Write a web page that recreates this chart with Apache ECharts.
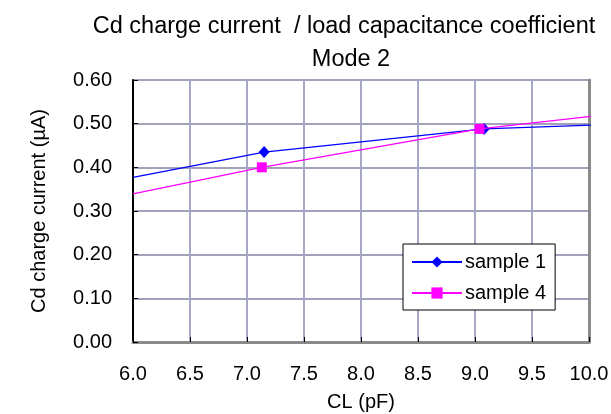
<!DOCTYPE html>
<html>
<head>
<meta charset="utf-8">
<script src="https://cdn.jsdelivr.net/npm/echarts@6/dist/echarts.min.js"></script>
<style>
  html, body { margin: 0; padding: 0; background: #ffffff; }
  #chart { width: 611px; height: 414px; }
</style>
</head>
<body>
<div id="chart"></div>
<script>
// Load capacitance CL (pF) and Cd charge current (µA) for each sample.
// The trace runs across the full axis; markers sit on the measured points.
const sample1X = [6.0, 7.15, 9.08, 10.04];
const sample1Y = [0.377, 0.435, 0.488, 0.497];
const sample1Marked = [false, true, true, false];

const sample4X = [6.0, 7.13, 9.04, 10.04];
const sample4Y = [0.339, 0.400, 0.488, 0.5175];
const sample4Marked = [false, true, true, false];

const xTicks = { min: 6.0, max: 10.0, step: 0.5 };
const yTicks = { min: 0.0, max: 0.60, step: 0.10 };

const FONT = 'Arial, "Liberation Sans", sans-serif';

function buildData(xs, ys, marked) {
  return xs.map((x, i) => marked[i]
    ? { value: [x, ys[i]] }
    : { value: [x, ys[i]], symbol: 'none' });
}

const chart = echarts.init(document.getElementById('chart'), null, { renderer: 'canvas' });

chart.setOption({
  animation: false,
  backgroundColor: '#ffffff',
  graphic: [
    { type: 'text', x: 344, y: 27, z: 10,
      style: { text: 'Cd charge current  / load capacitance coefficient', font: '23.5px ' + FONT,
               fill: '#000', textAlign: 'center', textVerticalAlign: 'middle' } },
    { type: 'text', x: 351, y: 60, z: 10,
      style: { text: 'Mode 2', font: '23.5px ' + FONT,
               fill: '#000', textAlign: 'center', textVerticalAlign: 'middle' } }
  ],
  grid: { left: 133, right: 22, top: 80, bottom: 72, containLabel: false, outerBoundsMode: 'none' },
  legend: {
    orient: 'vertical',
    left: 403, top: 244,
    width: 154,
    padding: [8, 9, 7, 8],
    itemGap: 11,
    itemWidth: 50,
    itemHeight: 14,
    backgroundColor: '#ffffff',
    borderColor: '#000000',
    borderWidth: 1,
    textStyle: { fontFamily: FONT, fontSize: 20, color: '#000', lineHeight: 20, padding: [0, 0, 0, -2] },
    data: ['sample 1', 'sample 4']
  },
  xAxis: [{
    type: 'value',
    min: xTicks.min, max: xTicks.max, interval: xTicks.step,
    name: 'CL (pF)', nameLocation: 'middle', nameGap: 50,
    nameTextStyle: { fontFamily: FONT, fontSize: 20, color: '#000' },
    axisLine: { show: true, onZero: false, lineStyle: { color: '#000', width: 2 } },
    axisTick: { show: true, inside: true, length: 5, lineStyle: { color: '#000', width: 1 } },
    axisLabel: { fontFamily: FONT, fontSize: 20, color: '#000', margin: 22,
                 formatter: v => v.toFixed(1) },
    splitLine: { show: true, lineStyle: { color: '#a7a7c9', width: 2 } }
  }, {
    type: 'value', position: 'top',
    min: xTicks.min, max: xTicks.max, interval: xTicks.step,
    axisLine: { show: true, lineStyle: { color: '#8a8a8a', width: 3 } },
    axisTick: { show: false }, axisLabel: { show: false }, splitLine: { show: false }
  }],
  yAxis: [{
    type: 'value',
    min: yTicks.min, max: yTicks.max, interval: yTicks.step,
    name: 'Cd charge current (µA)', nameLocation: 'middle', nameGap: 84,
    nameTextStyle: { fontFamily: FONT, fontSize: 20, color: '#000' },
    axisLine: { show: true, onZero: false, lineStyle: { color: '#000', width: 2 } },
    axisTick: { show: true, inside: true, length: 5, lineStyle: { color: '#000', width: 1 } },
    axisLabel: { fontFamily: FONT, fontSize: 20, color: '#000', margin: 21,
                 formatter: v => v.toFixed(2) },
    splitLine: { show: true, lineStyle: { color: '#8282a2', width: 1.5 } }
  }, {
    type: 'value', position: 'right',
    min: yTicks.min, max: yTicks.max, interval: yTicks.step,
    axisLine: { show: true, lineStyle: { color: '#8a8a8a', width: 3 } },
    axisTick: { show: false }, axisLabel: { show: false }, splitLine: { show: false }
  }],
  series: [{
    name: 'sample 1',
    type: 'line',
    clip: false,
    symbol: 'diamond',
    symbolSize: [11, 12],
    showAllSymbol: true,
    z: 3,
    itemStyle: { color: '#0000ff' },
    lineStyle: { color: '#0000ff', width: 1.3 },
    data: buildData(sample1X, sample1Y, sample1Marked)
  }, {
    name: 'sample 4',
    type: 'line',
    clip: false,
    symbol: 'rect',
    symbolSize: 10,
    showAllSymbol: true,
    z: 4,
    itemStyle: { color: '#ff00ff' },
    lineStyle: { color: '#ff00ff', width: 1.3 },
    data: buildData(sample4X, sample4Y, sample4Marked)
  }]
});
</script>
</body>
</html>
